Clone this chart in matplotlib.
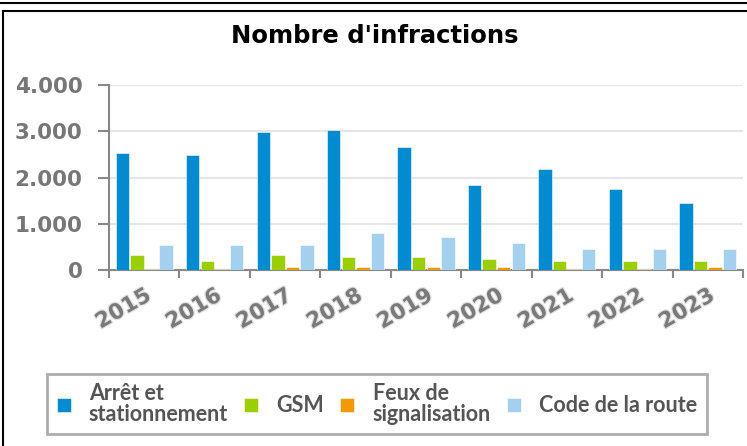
import numpy as np
import matplotlib.pyplot as plt
import matplotlib.patheffects as pe
from matplotlib.lines import Line2D
from matplotlib.patches import Patch
from matplotlib.ticker import FuncFormatter

# ---- données ----
annees = ["2015", "2016", "2017", "2018", "2019", "2020", "2021", "2022", "2023"]
arret = [2540, 2495, 2980, 3020, 2665, 1840, 2185, 1750, 1440]
gsm = [320, 190, 320, 275, 275, 230, 190, 190, 190]
feux = [12, 12, 58, 58, 58, 58, 12, 12, 58]
code_route = [535, 535, 535, 795, 710, 580, 450, 450, 450]

series = [
    ("Arrêt et\nstationnement", arret, "#008bd2"),
    ("GSM", gsm, "#9ccf00"),
    ("Feux de\nsignalisation", feux, "#f39a00"),
    ("Code de la route", code_route, "#a3d0ee"),
]

W, H = 747, 446
fig = plt.figure(figsize=(W / 100, H / 100), dpi=100)

# cadre de la page
fig.add_artist(Line2D([0, 1], [1 - 2.5 / H, 1 - 2.5 / H], color="black", lw=1.5))
fig.add_artist(Line2D([2.5 / W, 1], [1 - 10.5 / H, 1 - 10.5 / H], color="black", lw=1.5))
fig.add_artist(Line2D([2.5 / W, 2.5 / W], [0, 1 - 10.5 / H], color="black", lw=1.5))

ax = fig.add_axes([109 / W, 1 - 270 / H, (743 - 109) / W, (270 - 85) / H])

x = np.arange(len(annees))
step = 0.207
width = 0.19
for i, (nom, vals, col) in enumerate(series):
    ax.bar(x + (i - 1.5) * step, vals, width, color=col, edgecolor="white",
           linewidth=0.4, label=nom, zorder=3)

ax.set_xlim(-0.5, len(annees) - 0.5)
ax.set_ylim(0, 4000)
ax.set_yticks([0, 1000, 2000, 3000, 4000])
ax.yaxis.set_major_formatter(FuncFormatter(lambda v, p: f"{int(v):,}".replace(",", ".")))
ax.grid(axis="y", color="#e6e6e6", lw=1.5, zorder=0)

for s in ["top", "right"]:
    ax.spines[s].set_visible(False)
for s in ["left", "bottom"]:
    ax.spines[s].set_color("#888888")
    ax.spines[s].set_linewidth(1.5)

ax.set_xticks(np.arange(len(annees) + 1) - 0.5, minor=False)
ax.set_xticklabels([])
ax.set_xticks(x, minor=True)
ax.set_xticklabels(annees, minor=True)
ax.tick_params(axis="x", which="major", length=6, width=1.5, color="#888888")
ax.tick_params(axis="x", which="minor", length=0, pad=11)
ax.tick_params(axis="y", length=8, width=1.5, color="#888888", pad=11)

txt_fx = [pe.withStroke(linewidth=1.8, foreground="#e2e2e2")]
for lab in ax.get_xticklabels(minor=True):
    lab.set_rotation(30)
    lab.set_ha("right")
    lab.set_va("top")
    lab.set_rotation_mode("anchor")
    lab.set_fontsize(15.5)
    lab.set_fontweight("bold")
    lab.set_color("#7a7a7a")
    lab.set_path_effects(txt_fx)
for lab in ax.get_yticklabels():
    lab.set_fontsize(15.5)
    lab.set_fontweight("bold")
    lab.set_color("#777777")

fig.text(375 / W, 1 - 36 / H, "Nombre d'infractions", ha="center", va="center",
         fontsize=17.5, fontweight="bold", color="black")

handles = [Patch(facecolor=c, edgecolor="white", lw=0.4) for _, _, c in series]
leg = fig.legend(handles, [s[0] for s in series], loc="center",
                 bbox_to_anchor=(377 / W, 1 - 404 / H), ncol=4,
                 frameon=True, fancybox=False, edgecolor="#999999",
                 handlelength=0.65, handleheight=0.65, handletextpad=0.85,
                 columnspacing=0.75, borderpad=0.45,
                 prop={"family": ["Lato", "DejaVu Sans"],
                       "weight": "bold", "size": 15.5})
leg.get_frame().set_linewidth(2)
for t in leg.get_texts():
    t.set_color("#555555")
    t.set_linespacing(0.95)

fig.savefig("out.png", dpi=100)
